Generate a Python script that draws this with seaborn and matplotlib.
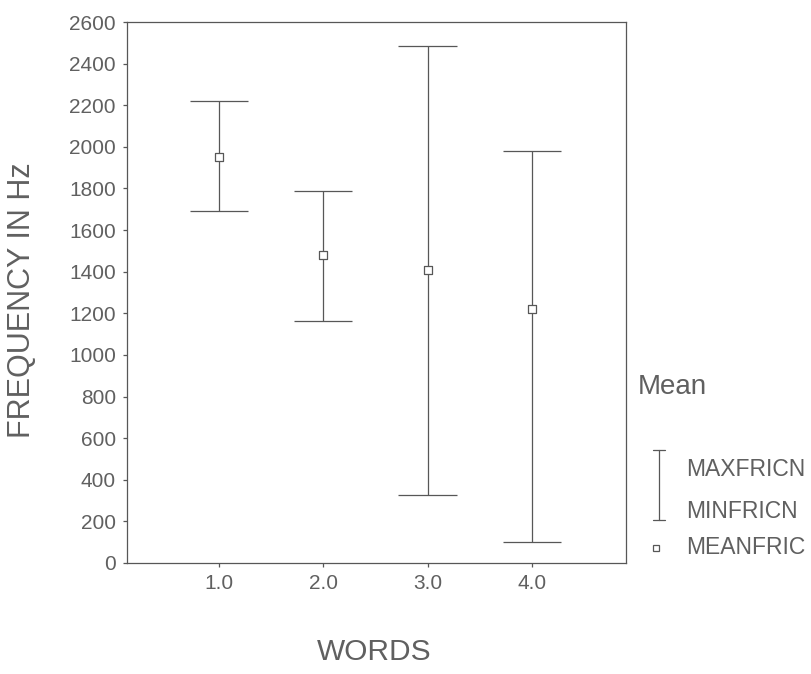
import numpy as np
import pandas as pd
import matplotlib
matplotlib.use("Agg")
import matplotlib.pyplot as plt
from matplotlib.lines import Line2D
import seaborn as sns

# ---- data ----
words = [1.0, 2.0, 3.0, 4.0]
maxfricn = [2220, 1790, 2485, 1980]
minfricn = [1690, 1165, 325, 100]
meanfric = [1950, 1480, 1410, 1220]
x_ticklabels = ["1.0", "2.0", "3.0", "4.0"]
y_ticks = list(range(0, 2601, 200))

df = pd.DataFrame({"WORDS": words, "MAXFRICN": maxfricn,
                   "MINFRICN": minfricn, "MEANFRIC": meanfric})

sns.set_style("white")
plt.rcParams["font.family"] = ["Liberation Sans", "DejaVu Sans"]

LINE = "#575757"
TEXT = "#606060"

fig = plt.figure(figsize=(8.12, 6.74), dpi=100)
W, H = 812, 674
L, R, T, B = 127, 626, 22, 563
ax = fig.add_axes([L / W, 1 - B / H, (R - L) / W, (B - T) / H])

# range bars (min to max) with caps
cap = 0.28
ax.vlines(df["WORDS"], df["MINFRICN"], df["MAXFRICN"], color=LINE, lw=0.9)
ax.hlines(df["MAXFRICN"], df["WORDS"] - cap, df["WORDS"] + cap, color=LINE, lw=0.9)
ax.hlines(df["MINFRICN"], df["WORDS"] - cap, df["WORDS"] + cap, color=LINE, lw=0.9)

# means
sns.scatterplot(data=df, x="WORDS", y="MEANFRIC", marker="s", s=34,
                facecolor="white", edgecolor=LINE, linewidth=0.9,
                ax=ax, legend=False, zorder=3)

ax.set_xlim(0.12, 4.9)
ax.set_ylim(0, 2600)
ax.set_xticks(words)
ax.set_xticklabels(x_ticklabels)
ax.set_yticks(y_ticks)
ax.set_yticklabels([str(v) for v in y_ticks])

for s in ax.spines.values():
    s.set_visible(True)
    s.set_color(LINE)
    s.set_linewidth(0.9)

ax.tick_params(axis="both", which="both", direction="out", length=3, width=0.9,
               color=LINE, labelcolor=TEXT, labelsize=15, pad=5,
               left=True, bottom=True)

ax.set_xlabel("WORDS", fontsize=21.5, color=TEXT, va="center")
ax.set_ylabel("FREQUENCY IN Hz", fontsize=22, color=TEXT, va="center")
ax.xaxis.set_label_coords((374 - L) / (R - L), (B - 652) / (B - T))
ax.yaxis.set_label_coords((22 - L) / (R - L), (B - 300) / (B - T))

# ---- legend (outside, right) ----
fig.text(638 / W, 1 - 387 / H, "Mean", fontsize=20, color=TEXT,
         ha="left", va="center")
# I-beam symbol
xs = 659 / W
y_top = 1 - 450 / H
y_bot = 1 - 520 / H
dx = 6 / W
fig.add_artist(Line2D([xs, xs], [y_bot, y_top], color=LINE, lw=0.9))
fig.add_artist(Line2D([xs - dx, xs + dx], [y_top, y_top], color=LINE, lw=0.9))
fig.add_artist(Line2D([xs - dx, xs + dx], [y_bot, y_bot], color=LINE, lw=0.9))
fig.add_artist(Line2D([656 / W], [1 - 548 / H], marker="s", markersize=4.5,
                      markerfacecolor="white", markeredgecolor=LINE,
                      markeredgewidth=0.9, linestyle="none"))
for label, yy in [("MAXFRICN", 469), ("MINFRICN", 511), ("MEANFRIC", 548)]:
    fig.text(686 / W, 1 - yy / H, label, fontsize=16.5, color=TEXT,
             ha="left", va="center")

fig.savefig("out.png", dpi=100)
